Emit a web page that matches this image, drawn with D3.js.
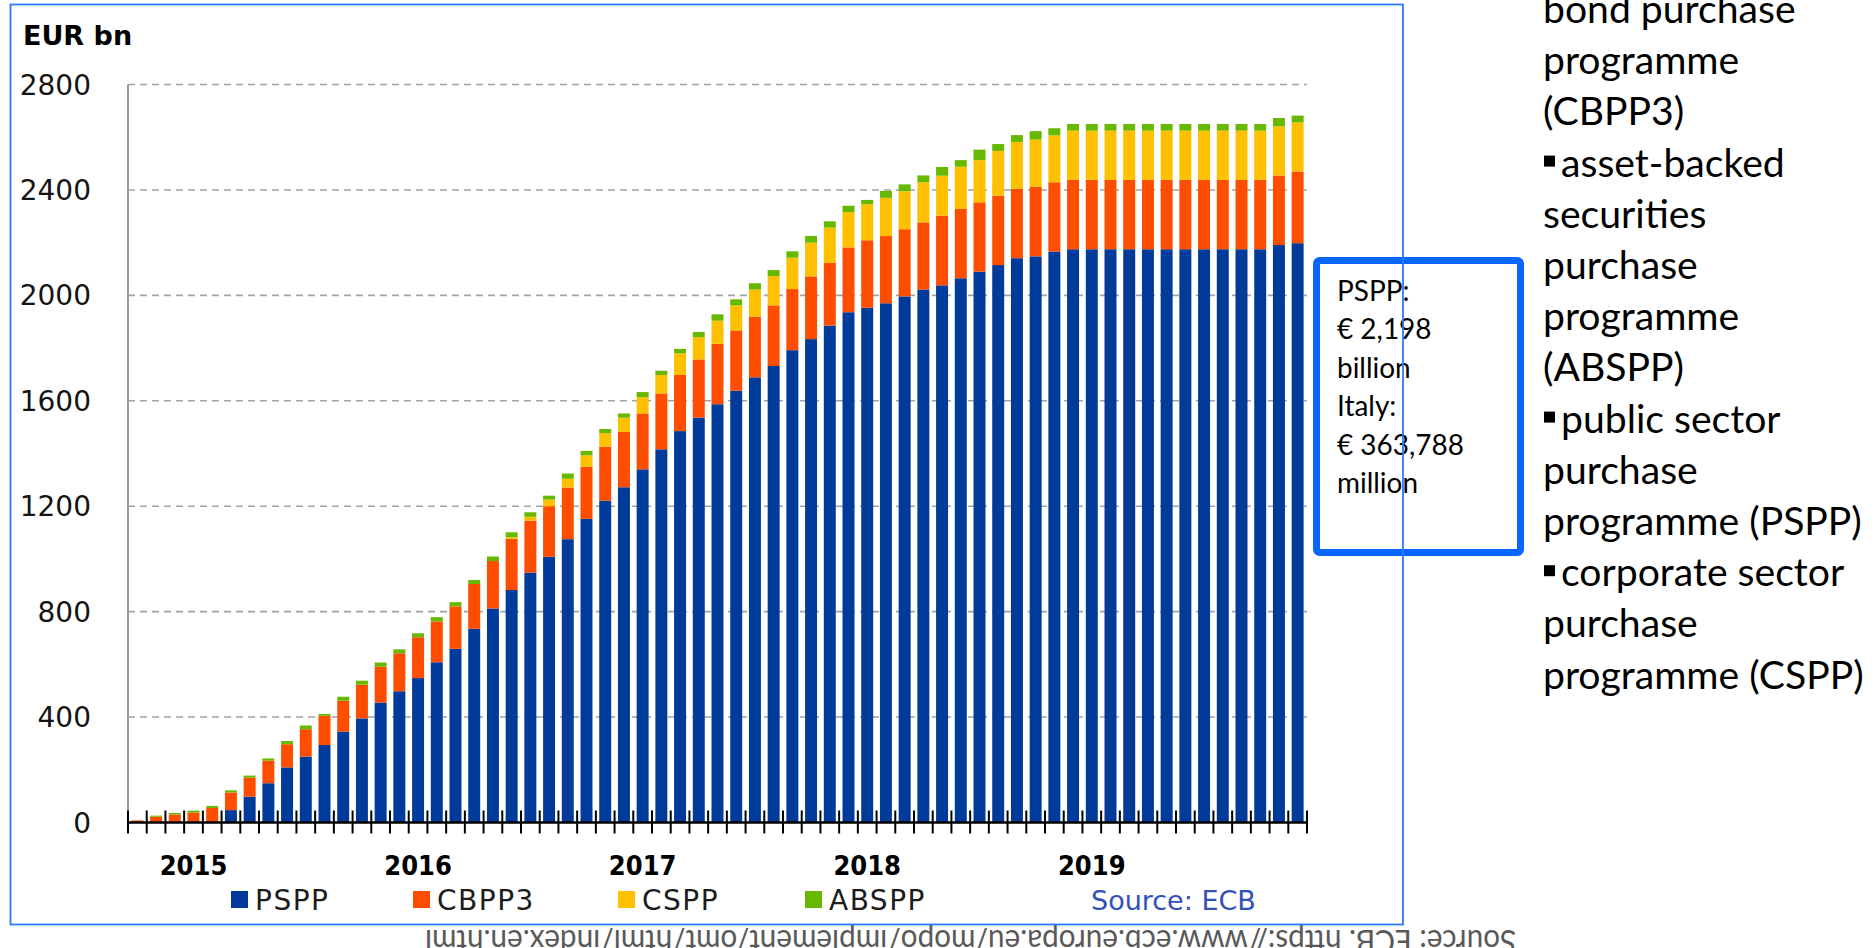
<!DOCTYPE html>
<html lang="en">

<head>
    <meta charset="UTF-8">
    <meta name="viewport" content="width=device-width, initial-scale=1.0">
    <script src="https://cdn.jsdelivr.net/npm/d3@7"></script>
    <title>APP cumulative net purchases</title>
    <style>
        body {
            margin: 0;
            background: #fff;
        }

        svg {
            display: block;
        }

        .tick-label {
            font-family: "DejaVu Sans", sans-serif;
            font-size: 28px;
            fill: #141414;
        }

        .year-label {
            font-family: "DejaVu Sans Condensed", "DejaVu Sans", sans-serif;
            font-stretch: condensed;
            font-weight: bold;
            font-size: 27px;
            fill: #000;
        }

        .legend-label {
            font-family: "DejaVu Sans", sans-serif;
            font-size: 28px;
            letter-spacing: 1.5px;
            fill: #1c1c1c;
        }

        .side-text {
            font-family: Lato, "Open Sans", sans-serif;
            fill: #000;
        }
    </style>
</head>

<body>
    <div id="chart"></div>
    <script>
        /*-------------------------------------------------------*/
        /*------------------------ Data -------------------------*/
        /*-------------------------------------------------------*/
        // one bar per month, Oct 2014 .. Dec 2019
        const months = d3.timeMonths(new Date(2014, 9, 1), new Date(2020, 0, 1))
            .map(d3.timeFormat("%Y-%m"));

        // cumulative holdings, EUR bn
        const pspp = [0, 0, 0, 0, 0, 47, 98, 149, 209, 250, 294, 345, 395, 455, 498,
            548, 608, 659, 735, 812, 882, 948, 1008, 1075, 1152, 1221, 1272, 1340, 1416, 1485,
            1536, 1587, 1638, 1689, 1732, 1792, 1834, 1885, 1936, 1953, 1970, 1996, 2022, 2038, 2065,
            2090, 2115, 2141, 2148, 2166, 2175, 2175, 2175, 2175, 2175, 2175, 2175, 2175, 2175, 2175,
            2175, 2191, 2198];
        const cbpp3 = [8, 22, 30, 38, 55, 67, 72, 86, 88, 104, 111, 117, 128, 136, 144,
            155, 155, 161, 170, 180, 194, 197, 192, 196, 198, 205, 210, 212, 212, 213,
            221, 229, 229, 230, 230, 232, 238, 238, 246, 256, 255, 255, 255, 264, 263,
            263, 263, 263, 264, 263, 263, 263, 263, 263, 263, 263, 263, 263, 263, 263,
            263, 264, 272];
        const cspp = [0, 0, 0, 0, 0, 0, 0, 0, 0, 0, 0, 0, 0, 0, 0,
            0, 0, 0, 0, 0, 6, 15, 25, 33, 43, 51, 54, 61, 70, 82,
            84, 88, 95, 103, 111, 119, 128, 134, 134, 137, 145, 144, 152, 152, 160,
            160, 170, 178, 179, 178, 187, 187, 187, 187, 187, 187, 187, 187, 187, 187,
            187, 186, 186];
        const abspp = [0, 4, 6, 7, 8, 8, 8, 8, 12, 14, 7, 15, 15, 16, 15,
            15, 16, 16, 15, 17, 19, 17, 15, 20, 17, 16, 16, 20, 16, 17,
            20, 24, 23, 24, 23, 24, 25, 24, 24, 16, 26, 26, 26, 33, 25,
            40, 26, 26, 32, 27, 25, 25, 25, 25, 25, 25, 25, 25, 25, 25,
            25, 32, 26];

        const seriesNames = ["PSPP", "CBPP3", "CSPP", "ABSPP"];
        const seriesColors = ["#003a9b", "#ff4d00", "#ffc000", "#66b800"];
        const yTicks = [0, 400, 800, 1200, 1600, 2000, 2400, 2800];
        const yearLabels = ["2015", "2016", "2017", "2018", "2019"];
        const boxLines = ["PSPP:", "€ 2,198", "billion", "Italy:", "€ 363,788", "million"];
        const sideLines = [
            ["bond purchase", false], ["programme", false], ["(CBPP3)", false],
            ["asset-backed", true], ["securities", false], ["purchase", false],
            ["programme", false], ["(ABSPP)", false], ["public sector", true],
            ["purchase", false], ["programme (PSPP)", false], ["corporate sector", true],
            ["purchase", false], ["programme (CSPP)", false]
        ];
        const sourceNote = "Source: ECB. https://www.ecb.europa.eu/mopo/implement/omt/html/index.en.html";

        /*-------------------------------------------------------*/
        /*------------------------ Layout -----------------------*/
        /*-------------------------------------------------------*/
        const W = 1875, H = 948;
        const plot = { left: 128, right: 1307, top: 84.5, bottom: 822.5 };
        const legendX = [231, 413, 618, 805];

        const svg = d3.select("#chart").append("svg")
            .attr("width", W)
            .attr("height", H);

        const table = months.map((m, i) => ({
            month: m, PSPP: pspp[i], CBPP3: cbpp3[i], CSPP: cspp[i], ABSPP: abspp[i]
        }));
        const stacked = d3.stack().keys(seriesNames)(table);

        const x = d3.scaleBand()
            .domain(months)
            .range([plot.left, plot.right])
            .paddingInner(0.36)
            .paddingOuter(0.18);
        const y = d3.scaleLinear()
            .domain([0, 2800])
            .range([plot.bottom, plot.top]);
        const color = d3.scaleOrdinal().domain(seriesNames).range(seriesColors);

        /*-------------------------------------------------------*/
        /*----------------------- Grid --------------------------*/
        /*-------------------------------------------------------*/
        svg.append("g")
            .selectAll("line")
            .data(yTicks.filter(d => d > 0))
            .join("line")
            .attr("x1", plot.left)
            .attr("x2", plot.right)
            .attr("y1", d => y(d))
            .attr("y2", d => y(d))
            .attr("stroke", "#a3a3a3")
            .attr("stroke-width", 1.6)
            .attr("stroke-dasharray", "7 5");

        svg.append("line")
            .attr("x1", plot.left).attr("x2", plot.left)
            .attr("y1", y(2800)).attr("y2", y(0))
            .attr("stroke", "#9a9a9a")
            .attr("stroke-width", 2);

        svg.append("g")
            .selectAll("text")
            .data(yTicks)
            .join("text")
            .attr("class", "tick-label")
            .attr("x", 91)
            .attr("y", d => y(d) + 10)
            .attr("text-anchor", "end")
            .text(d => d);

        svg.append("text")
            .attr("x", 23)
            .attr("y", 45)
            .style("font-family", "'DejaVu Sans', sans-serif")
            .style("font-weight", "bold")
            .style("font-size", "27px")
            .text("EUR bn");

        /*-------------------------------------------------------*/
        /*----------------------- Bars --------------------------*/
        /*-------------------------------------------------------*/
        svg.append("g")
            .selectAll("g")
            .data(stacked)
            .join("g")
            .attr("fill", d => color(d.key))
            .selectAll("rect")
            .data(d => d)
            .join("rect")
            .attr("x", d => x(d.data.month))
            .attr("width", x.bandwidth())
            .attr("y", d => y(d[1]))
            .attr("height", d => y(d[0]) - y(d[1]));

        /*-------------------------------------------------------*/
        /*---------------------- X axis -------------------------*/
        /*-------------------------------------------------------*/
        const step = x.step();
        const gap = (step - x.bandwidth()) / 2;
        const tickXs = months.map(m => x(m) - gap).concat([x(months[months.length - 1]) + x.bandwidth() + gap]);

        svg.append("line")
            .attr("x1", plot.left).attr("x2", plot.right)
            .attr("y1", y(0)).attr("y2", y(0))
            .attr("stroke", "#000")
            .attr("stroke-width", 2.6);

        svg.append("g")
            .selectAll("line")
            .data(tickXs)
            .join("line")
            .attr("x1", d => d).attr("x2", d => d)
            .attr("y1", y(0) - 12).attr("y2", y(0) + 11)
            .attr("stroke", "#000")
            .attr("stroke-width", 2);

        svg.append("g")
            .selectAll("text")
            .data(yearLabels)
            .join("text")
            .attr("class", "year-label")
            .attr("x", d => x(d + "-01") + x.bandwidth() / 2)
            .attr("y", 875)
            .attr("text-anchor", "middle")
            .text(d => d);

        /*-------------------------------------------------------*/
        /*---------------------- Legend -------------------------*/
        /*-------------------------------------------------------*/
        const legend = svg.append("g")
            .selectAll("g")
            .data(seriesNames)
            .join("g")
            .attr("transform", (d, i) => `translate(${legendX[i]},891)`);

        legend.append("rect")
            .attr("width", 17)
            .attr("height", 17)
            .attr("fill", d => color(d));

        legend.append("text")
            .attr("class", "legend-label")
            .attr("x", 24)
            .attr("y", 19)
            .text(d => d);

        svg.append("text")
            .attr("x", 1091)
            .attr("y", 910)
            .style("font-family", "'DejaVu Sans', sans-serif")
            .style("font-size", "27px")
            .attr("fill", "#3150b8")
            .text("Source: ECB");

        /*-------------------------------------------------------*/
        /*------------------ Annotation box ---------------------*/
        /*-------------------------------------------------------*/
        svg.append("rect")
            .attr("x", 1316.5)
            .attr("y", 260.5)
            .attr("width", 204)
            .attr("height", 292)
            .attr("rx", 3)
            .attr("fill", "none")
            .attr("stroke", "#0866ff")
            .attr("stroke-width", 7);

        const boxText = svg.append("g")
            .selectAll("text")
            .data(boxLines)
            .join("text")
            .attr("class", "side-text")
            .attr("x", 1337)
            .attr("y", (d, i) => 301 + i * 38.4)
            .style("font-size", "27px")
            .text(d => d);

        // fit the box text width to the picture
        const boxW = boxText.filter((d, i) => i === 4).node().getComputedTextLength();
        boxText.style("font-size", (27 * 127 / boxW) + "px");

        /*-------------------------------------------------------*/
        /*--------------------- Side text -----------------------*/
        /*-------------------------------------------------------*/
        const side = svg.append("g")
            .selectAll("g")
            .data(sideLines)
            .join("g")
            .attr("transform", (d, i) => `translate(1543,${23 + i * 51.2})`);

        side.filter(d => d[1])
            .append("rect")
            .attr("x", 1)
            .attr("y", -21)
            .attr("width", 11)
            .attr("height", 11)
            .attr("fill", "#000");

        const sideText = side.append("text")
            .attr("class", "side-text")
            .attr("x", d => d[1] ? 18 : 0)
            .style("font-size", "39px")
            .text(d => d[0]);

        const sideW = sideText.filter((d, i) => i === 10).node().getComputedTextLength();
        sideText.style("font-size", (39 * 319 / sideW) + "px");

        /*-------------------------------------------------------*/
        /*------------------ Upside-down note -------------------*/
        /*-------------------------------------------------------*/
        svg.append("text")
            .attr("x", 970.5)
            .attr("y", 930)
            .attr("text-anchor", "middle")
            .attr("transform", "rotate(180,970.5,930)")
            .attr("textLength", 1091)
            .attr("lengthAdjust", "spacingAndGlyphs")
            .style("font-family", "Lato, sans-serif")
            .style("font-size", "32px")
            .attr("fill", "#595959")
            .text(sourceNote);

        /*-------------------------------------------------------*/
        /*------------------------ Frame ------------------------*/
        /*-------------------------------------------------------*/
        svg.append("rect")
            .attr("x", 10.5)
            .attr("y", 4.5)
            .attr("width", 1392.5)
            .attr("height", 920)
            .attr("fill", "none")
            .attr("stroke", "#2a7bff")
            .attr("stroke-width", 1.8);
    </script>
</body>

</html>
